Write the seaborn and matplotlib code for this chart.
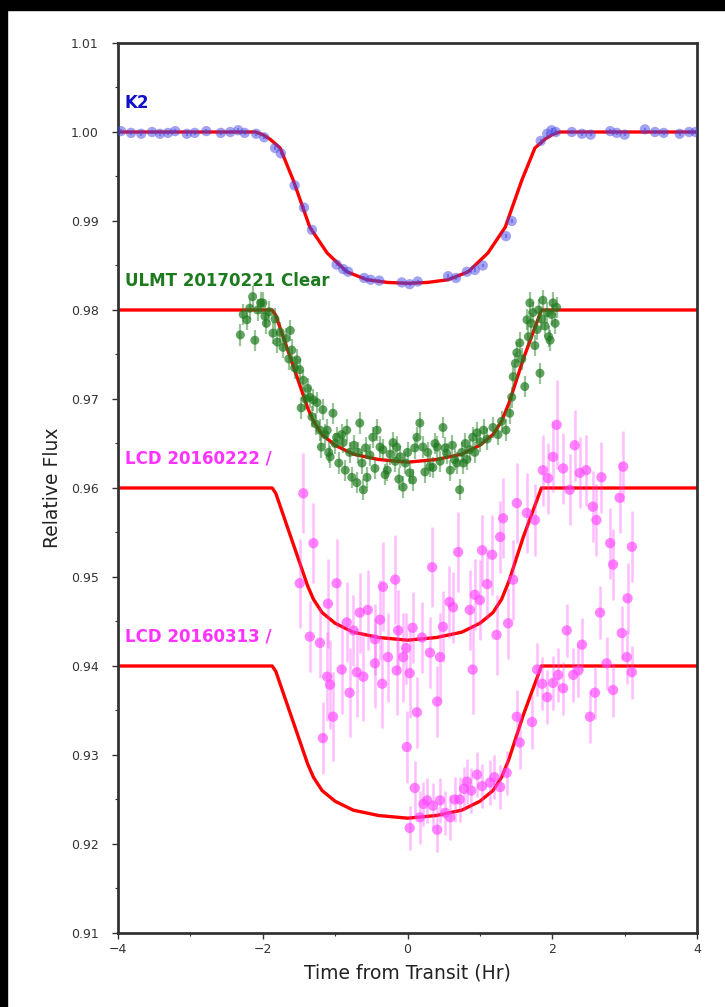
import matplotlib
matplotlib.use("Agg")
import matplotlib.pyplot as plt
import matplotlib.patches as mpatches
from matplotlib.ticker import MultipleLocator, FormatStrFormatter
import seaborn as sns
import numpy as np
import pandas as pd

# ---------------- data ----------------
# K2 model curve (time in hr, flux relative to baseline)
k2_model_t = [-4.0, -2.10, -2.00, -1.90, -1.76, -1.58, -1.35, -1.11, -0.84, -0.56, -0.28, 0.0,
              0.28, 0.56, 0.84, 1.11, 1.35, 1.58, 1.76, 1.90, 2.00, 2.10, 4.0]
k2_model_d = [0.0, 0.0, -0.0003, -0.0008, -0.0018, -0.0054, -0.0107, -0.0136, -0.0157, -0.0166, -0.0169, -0.0170,
              -0.0169, -0.0166, -0.0157, -0.0136, -0.0107, -0.0054, -0.0018, -0.0008, -0.0003, 0.0, 0.0]
# ground-based model curve
gb_model_t = [-4.0, -1.87, -1.82, -1.38, -1.30, -1.18, -1.00, -0.75, -0.40, 0.0,
              0.40, 0.75, 1.00, 1.18, 1.30, 1.40, 1.60, 1.85, 4.0]
gb_model_d = [0.0, 0.0, -0.0006, -0.0110, -0.0125, -0.0140, -0.0152, -0.0162, -0.0168, -0.0171,
              -0.0168, -0.0162, -0.0152, -0.0140, -0.0125, -0.0105, -0.0055, 0.0, 0.0]

baselines = {"K2": 1.00, "ULMT 20170221 Clear": 0.98, "LCD 20160222 /": 0.96, "LCD 20160313 /": 0.94}

k2_t = [-3.96, -3.82, -3.68, -3.53, -3.42, -3.31, -3.21, -3.05, -2.94, -2.78, -2.58, -2.45, -2.34, -2.25,
        -2.09, -1.98, -1.83, -1.75, -1.56, -1.43, -1.32, -0.98, -0.89, -0.82, -0.60, -0.51, -0.39, -0.08,
        0.03, 0.14, 0.56, 0.67, 0.82, 0.93, 1.04, 1.36, 1.44, 1.84, 1.93, 1.99, 2.05, 2.27, 2.41, 2.53,
        2.80, 2.89, 3.00, 3.28, 3.42, 3.54, 3.76, 3.89, 3.98]
k2_f = [1.0001, 0.9999, 0.9998, 1.0000, 0.9998, 0.9999, 1.0001, 0.9998, 0.9999, 1.0001, 0.9999, 1.0000, 1.0002, 0.9999,
        0.9998, 0.9994, 0.9982, 0.9976, 0.9940, 0.9915, 0.9890, 0.9851, 0.9846, 0.9843, 0.9836, 0.9834, 0.9833, 0.9831,
        0.9829, 0.9832, 0.9838, 0.9836, 0.9843, 0.9845, 0.9850, 0.9883, 0.9900, 0.9990, 0.9998, 1.0002, 1.0000, 1.0000,
        0.9998, 0.9997, 1.0001, 0.9999, 0.9997, 1.0003, 1.0000, 0.9999, 0.9998, 1.0000, 1.0000]
k2_err = 0.0002

ulmt_t = [-2.31, -2.27, -2.22, -2.18, -2.14, -2.11, -2.07, -2.03, -2.00, -1.97, -1.95, -1.91, -1.86, -1.83, -1.80,
          -1.76, -1.72, -1.68, -1.64, -1.62, -1.60, -1.56, -1.53, -1.49, -1.47, -1.44, -1.41, -1.38, -1.35, -1.32,
          -1.30, -1.27, -1.25, -1.21, -1.19, -1.17, -1.14, -1.11, -1.09, -1.07, -1.03, -1.00, -0.98, -0.95, -0.91,
          -0.89, -0.86, -0.84, -0.80, -0.77, -0.74, -0.70, -0.68, -0.66, -0.63, -0.61, -0.58, -0.56, -0.52, -0.48,
          -0.45, -0.42, -0.38, -0.34, -0.31, -0.28, -0.24, -0.20, -0.17, -0.15, -0.12, -0.10, -0.06, -0.03, 0.00,
          0.03, 0.07, 0.10, 0.13, 0.17, 0.21, 0.24, 0.28, 0.31, 0.35, 0.38, 0.41, 0.45, 0.49, 0.52, 0.54, 0.59,
          0.62, 0.65, 0.68, 0.72, 0.75, 0.77, 0.80, 0.82, 0.86, 0.90, 0.93, 0.96, 1.00, 1.05, 1.10, 1.18, 1.25,
          1.30, 1.36, 1.41, 1.44, 1.46, 1.49, 1.51, 1.55, 1.58, 1.62, 1.65, 1.67, 1.69, 1.71, 1.73, 1.76, 1.79,
          1.81, 1.83, 1.85, 1.87, 1.90, 1.93, 1.95, 1.97, 1.99, 2.01, 2.04, 2.06]
ulmt_f = [0.9772, 0.9795, 0.9789, 0.9802, 0.9815, 0.9766, 0.9800, 0.9808, 0.9808, 0.9793, 0.9785, 0.9798, 0.9774, 0.9790, 0.9764,
          0.9775, 0.9758, 0.9768, 0.9745, 0.9777, 0.9755, 0.9735, 0.9744, 0.9733, 0.9690, 0.9721, 0.9700, 0.9712, 0.9702, 0.9680,
          0.9699, 0.9672, 0.9696, 0.9665, 0.9646, 0.9688, 0.9660, 0.9665, 0.9640, 0.9635, 0.9684, 0.9650, 0.9657, 0.9628, 0.9660,
          0.9651, 0.9620, 0.9665, 0.9640, 0.9612, 0.9648, 0.9606, 0.9640, 0.9673, 0.9628, 0.9598, 0.9645, 0.9612, 0.9637, 0.9657,
          0.9622, 0.9665, 0.9646, 0.9643, 0.9615, 0.9620, 0.9638, 0.9651, 0.9630, 0.9646, 0.9610, 0.9635, 0.9601, 0.9628, 0.9640,
          0.9617, 0.9609, 0.9645, 0.9657, 0.9673, 0.9646, 0.9618, 0.9640, 0.9624, 0.9623, 0.9650, 0.9646, 0.9630, 0.9668, 0.9645,
          0.9639, 0.9620, 0.9648, 0.9632, 0.9628, 0.9598, 0.9640, 0.9628, 0.9650, 0.9632, 0.9643, 0.9657, 0.9640, 0.9662, 0.9652,
          0.9665, 0.9655, 0.9668, 0.9660, 0.9675, 0.9665, 0.9684, 0.9702, 0.9725, 0.9740, 0.9752, 0.9763, 0.9745, 0.9714, 0.9789,
          0.9770, 0.9808, 0.9785, 0.9797, 0.9760, 0.9778, 0.9800, 0.9729, 0.9790, 0.9811, 0.9782, 0.9797, 0.9770, 0.9766, 0.9795,
          0.9808, 0.9785, 0.9803]
ulmt_err = 0.0012

lcd1_t = [-1.44, -1.30, -1.49, -1.35, -1.21, -0.98, -1.10, -0.84, -0.75, -0.66, -0.55, -0.45, -0.38, -0.34, -0.17,
          -0.13, -0.02, 0.07, 0.20, 0.34, 0.49, 0.58, 0.63, 0.70, 0.86, 0.93, 1.00, 1.03, 1.10, 1.17, 1.23, 1.28,
          1.32, 1.39, 1.46, 1.51, 1.65, 1.76, 1.87, 1.94, 2.01, 2.06, 2.15, 2.24, 2.31, 2.38, 2.47, 2.56, 2.61,
          2.68, 2.80, 2.84, 2.93, 2.98, 3.04, 3.10]
lcd1_f = [0.9594, 0.9538, 0.9493, 0.9433, 0.9426, 0.9493, 0.9470, 0.9449, 0.9440, 0.9460, 0.9463, 0.9430, 0.9452, 0.9489, 0.9497,
          0.9440, 0.9420, 0.9443, 0.9432, 0.9511, 0.9444, 0.9472, 0.9466, 0.9528, 0.9463, 0.9480, 0.9474, 0.9530, 0.9492, 0.9525,
          0.9435, 0.9545, 0.9566, 0.9448, 0.9497, 0.9583, 0.9572, 0.9564, 0.9620, 0.9611, 0.9635, 0.9671, 0.9622, 0.9598, 0.9648,
          0.9617, 0.9620, 0.9579, 0.9564, 0.9612, 0.9538, 0.9514, 0.9589, 0.9624, 0.9476, 0.9534]
lcd1_err = [0.0045, 0.0045, 0.0050, 0.0040, 0.0040, 0.0050, 0.0050, 0.0045, 0.0040, 0.0045, 0.0045, 0.0040, 0.0045, 0.0050, 0.0050,
            0.0045, 0.0040, 0.0040, 0.0040, 0.0045, 0.0040, 0.0040, 0.0040, 0.0045, 0.0045, 0.0040, 0.0045, 0.0040, 0.0040, 0.0045,
            0.0045, 0.0040, 0.0045, 0.0040, 0.0045, 0.0045, 0.0045, 0.0040, 0.0040, 0.0040, 0.0040, 0.0050, 0.0040, 0.0040, 0.0040,
            0.0040, 0.0040, 0.0040, 0.0040, 0.0040, 0.0040, 0.0040, 0.0040, 0.0040, 0.0040, 0.0040]

lcd2_t = [-1.17, -1.11, -1.07, -1.03, -0.91, -0.80, -0.70, -0.61, -0.45, -0.35, -0.27, -0.15, -0.06, 0.03, -0.01,
          0.13, 0.31, 0.41, 0.45, 0.90, 0.10, 0.17, 0.03, 0.22, 0.27, 0.35, 0.41, 0.45, 0.52, 0.59, 0.65, 0.72,
          0.78, 0.82, 0.88, 0.96, 1.03, 1.14, 1.20, 1.28, 1.37, 1.51, 1.55, 1.72, 1.79, 1.86, 1.93, 2.01, 2.08,
          2.15, 2.20, 2.29, 2.36, 2.41, 2.52, 2.59, 2.66, 2.75, 2.84, 2.96, 3.03, 3.10]
lcd2_f = [0.9319, 0.9388, 0.9379, 0.9343, 0.9396, 0.9370, 0.9393, 0.9388, 0.9403, 0.9380, 0.9410, 0.9395, 0.9410, 0.9392, 0.9309,
          0.9348, 0.9415, 0.9360, 0.9410, 0.9396, 0.9263, 0.9230, 0.9218, 0.9245, 0.9249, 0.9243, 0.9216, 0.9249, 0.9235, 0.9230,
          0.9250, 0.9250, 0.9262, 0.9270, 0.9260, 0.9278, 0.9265, 0.9269, 0.9275, 0.9264, 0.9280, 0.9343, 0.9314, 0.9337, 0.9396,
          0.9380, 0.9365, 0.9381, 0.9390, 0.9375, 0.9440, 0.9390, 0.9395, 0.9424, 0.9343, 0.9370, 0.9460, 0.9403, 0.9373, 0.9437,
          0.9410, 0.9393]
lcd2_err = [0.0040, 0.0050, 0.0050, 0.0050, 0.0050, 0.0050, 0.0050, 0.0050, 0.0050, 0.0050, 0.0050, 0.0050, 0.0050, 0.0050, 0.0040,
            0.0040, 0.0040, 0.0040, 0.0050, 0.0050, 0.0030, 0.0030, 0.0025, 0.0025, 0.0025, 0.0025, 0.0025, 0.0025, 0.0025, 0.0025,
            0.0025, 0.0025, 0.0025, 0.0025, 0.0025, 0.0025, 0.0025, 0.0025, 0.0025, 0.0025, 0.0025, 0.0030, 0.0030, 0.0030, 0.0030,
            0.0030, 0.0030, 0.0030, 0.0030, 0.0030, 0.0030, 0.0030, 0.0030, 0.0030, 0.0030, 0.0030, 0.0030, 0.0030, 0.0030, 0.0030,
            0.0030, 0.0030]

x_ticks = [-4, -2, 0, 2, 4]
y_ticks = [0.91, 0.92, 0.93, 0.94, 0.95, 0.96, 0.97, 0.98, 0.99, 1.00, 1.01]

# ---------------- style ----------------
sns.set_theme(style="ticks")
plt.rcParams['font.family'] = ['DejaVu Sans']

fig = plt.figure(figsize=(7.25, 10.07), dpi=100, facecolor="white")
ax = fig.add_axes([0.1628, 0.0735, 0.7986, 0.8838])

# black frame strips of the screenshot
fig.patches.append(mpatches.Rectangle((0, 0.990), 1, 0.010, transform=fig.transFigure,
                                      color="black", zorder=-1))
fig.patches.append(mpatches.Rectangle((0, 0), 0.0097, 1, transform=fig.transFigure,
                                      color="black", zorder=-1))

red = "#ff0000"
# model curves
sns.lineplot(x=k2_model_t, y=[baselines["K2"] + d for d in k2_model_d], ax=ax,
             color=red, lw=2.4, zorder=2, sort=False)
for name in ["ULMT 20170221 Clear", "LCD 20160222 /", "LCD 20160313 /"]:
    sns.lineplot(x=gb_model_t, y=[baselines[name] + d for d in gb_model_d], ax=ax,
                 color=red, lw=2.4, zorder=2, sort=False)

# data
k2_col = "#4646e6"
green = "#1e7a1e"
pink = "#ff44ff"

ax.errorbar(k2_t, k2_f, yerr=k2_err, fmt="none", ecolor=k2_col, alpha=0.5, lw=1.5, zorder=3)
sns.scatterplot(x=k2_t, y=k2_f, ax=ax, color=k2_col, alpha=0.5, s=55, edgecolor="none", zorder=4)

ax.errorbar(ulmt_t, ulmt_f, yerr=ulmt_err, fmt="none", ecolor=green, alpha=0.45, lw=1.6, zorder=3)
sns.scatterplot(x=ulmt_t, y=ulmt_f, ax=ax, color=green, alpha=0.7, s=42, edgecolor="none", zorder=4)

for tt, ff, ee in [(lcd1_t, lcd1_f, lcd1_err), (lcd2_t, lcd2_f, lcd2_err)]:
    ax.errorbar(tt, ff, yerr=ee, fmt="none", ecolor=pink, alpha=0.35, lw=1.8, zorder=3)
    sns.scatterplot(x=tt, y=ff, ax=ax, color=pink, alpha=0.65, s=55, edgecolor="none", zorder=4)

# labels for each dataset
label_cols = {"K2": "#1010c8", "ULMT 20170221 Clear": "#1e7a1e",
              "LCD 20160222 /": "#ff33ff", "LCD 20160313 /": "#ff33ff"}
for name, base in baselines.items():
    ax.text(-3.91, base + 0.0033, name, color=label_cols[name], fontsize=12,
            fontweight="bold", ha="left", va="center", zorder=5)

ax.set_xlim(-4, 4)
ax.set_ylim(0.91, 1.01)
ax.set_xticks(x_ticks)
ax.set_xticklabels([f"{v:g}".replace("-", "\u2212") for v in x_ticks])
ax.set_yticks(y_ticks)
ax.yaxis.set_major_formatter(FormatStrFormatter("%.2f"))
ax.xaxis.set_minor_locator(MultipleLocator(1))
ax.yaxis.set_minor_locator(MultipleLocator(0.005))
ax.tick_params(axis="both", which="major", labelsize=9, length=4, width=1, color="#333333",
               labelcolor="#333333", direction="out")
ax.tick_params(axis="y", which="major", pad=10)
ax.tick_params(axis="both", which="minor", length=2.5, width=0.8, color="#333333", direction="out")
for sp in ax.spines.values():
    sp.set_linewidth(2)
    sp.set_color("#333333")
ax.set_xlabel("Time from Transit (Hr)", fontsize=13.5, color="#222222", labelpad=5)
ax.set_ylabel("Relative Flux", fontsize=13.5, color="#222222", labelpad=6)

fig.savefig("out.png", dpi=100, facecolor="white")
